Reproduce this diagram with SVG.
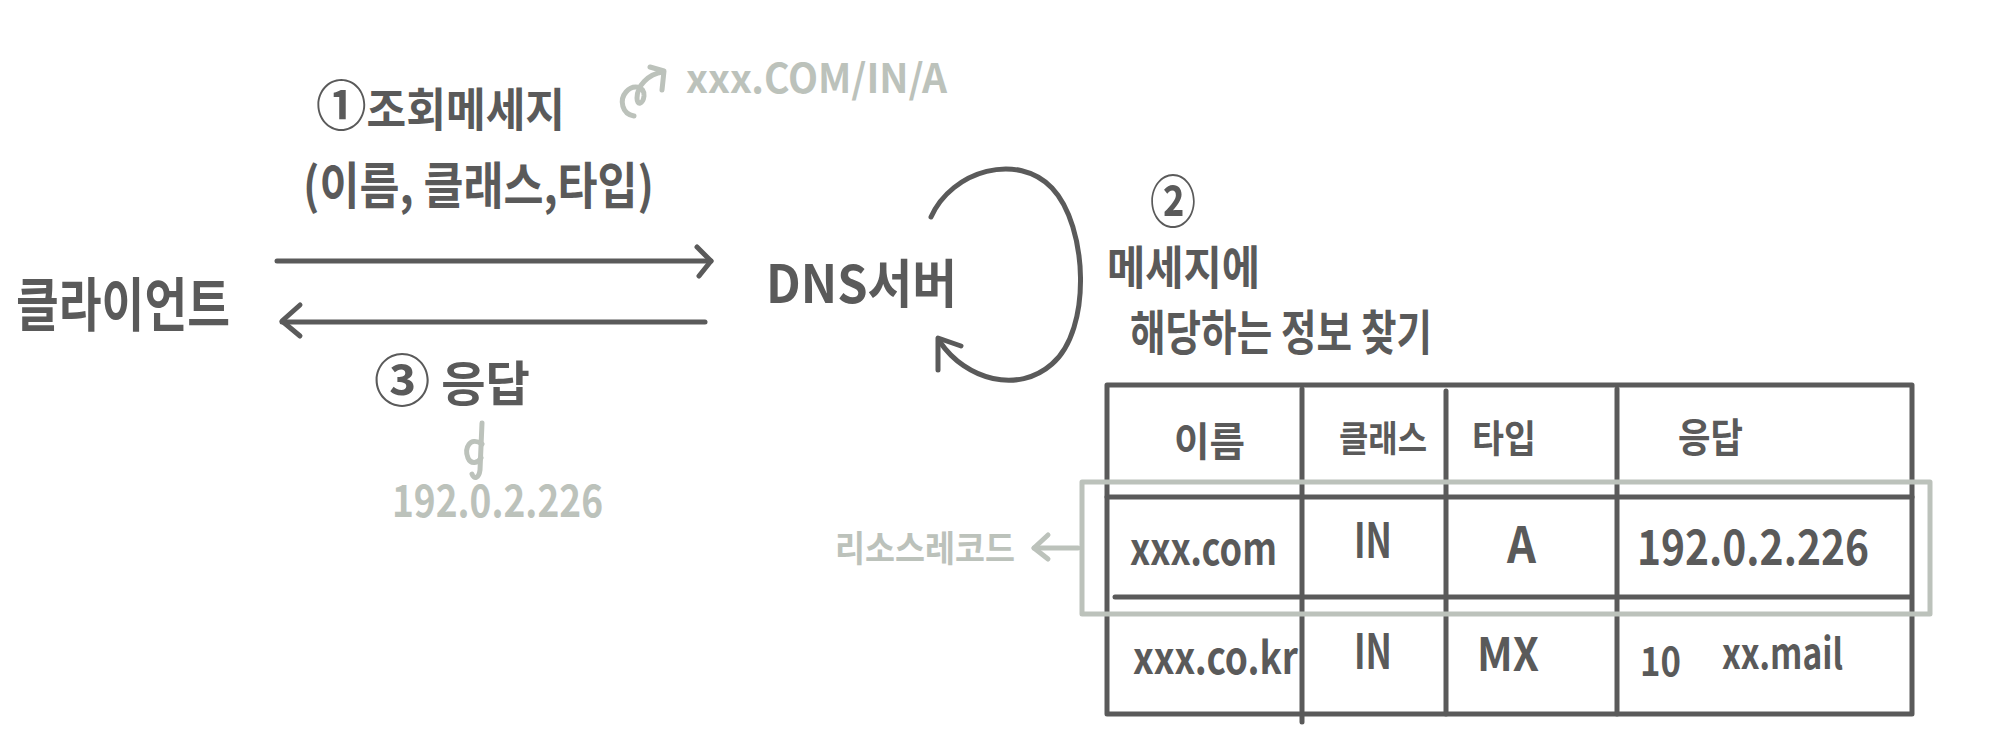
<svg xmlns="http://www.w3.org/2000/svg" width="2000" height="756" viewBox="0 0 2000 756">
  <defs>
    <style>
      .t { font-family: "Noto Sans CJK KR", "Noto Sans", sans-serif; font-weight: 700; fill: #5a5a5a; }
      .g { font-family: "Noto Sans CJK KR", "Noto Sans", sans-serif; font-weight: 700; fill: #bcc2bb; }
      .ln { stroke: #5a5a5a; stroke-width: 5; fill: none; stroke-linecap: round; stroke-linejoin: round; }
      .gl { stroke: #bcc2bb; stroke-width: 5; fill: none; stroke-linecap: round; stroke-linejoin: round; }
    </style>
  </defs>
  <rect width="2000" height="756" fill="#ffffff"/>

  <g id="client">
    <text class="t" x="16" y="326" font-size="58" textLength="214" lengthAdjust="spacingAndGlyphs">클라이언트</text>
  </g>

  <g id="dns-server">
    <text class="t" x="766" y="303" font-size="52" textLength="191" lengthAdjust="spacingAndGlyphs">DNS서버</text>
  </g>

  <g id="query-label">
    <text class="t" x="316" y="126" font-size="46" textLength="249" lengthAdjust="spacingAndGlyphs"><tspan font-size="54">①</tspan>조회메세지</text>
    <text class="t" x="303" y="204" font-size="50" textLength="351" lengthAdjust="spacingAndGlyphs">(이름, 클래스,타입)</text>
  </g>

  <g id="query-example">
    <text class="g" x="686" y="93" font-size="40" textLength="261" lengthAdjust="spacingAndGlyphs">xxx.COM/IN/A</text>
  </g>

  <g id="response-label">
    <text class="t" x="374" y="401" font-size="48" textLength="156" lengthAdjust="spacingAndGlyphs"><tspan font-size="56">③</tspan> 응답</text>
  </g>

  <g id="response-example">
    <text class="g" x="392" y="517" font-size="44" textLength="211" lengthAdjust="spacingAndGlyphs">192.0.2.226</text>
  </g>

  <g id="step2-label">
    <text class="t" x="1150" y="222" font-size="56" textLength="46" lengthAdjust="spacingAndGlyphs">②</text>
    <text class="t" x="1107" y="284" font-size="46" textLength="153" lengthAdjust="spacingAndGlyphs">메세지에</text>
    <text class="t" x="1130" y="350" font-size="48" textLength="302" lengthAdjust="spacingAndGlyphs">해당하는 정보 찾기</text>
  </g>

  <g id="resource-record-label">
    <text class="g" x="835" y="562" font-size="36" textLength="180" lengthAdjust="spacingAndGlyphs">리소스레코드</text>
  </g>

  <g id="dns-table">
    <rect class="ln" x="1107" y="385" width="805" height="329"/>
    <line class="ln" x1="1302" y1="389" x2="1302" y2="722"/>
    <line class="ln" x1="1446" y1="391" x2="1446" y2="714"/>
    <line class="ln" x1="1617" y1="389" x2="1617" y2="714"/>
    <line class="ln" x1="1107" y1="497" x2="1912" y2="497" stroke-width="7"/>
    <line class="ln" x1="1115" y1="597" x2="1910" y2="597" stroke-width="7"/>

    <text class="t" x="1174" y="456" font-size="40" textLength="71" lengthAdjust="spacingAndGlyphs">이름</text>
    <text class="t" x="1339" y="452" font-size="36" textLength="88" lengthAdjust="spacingAndGlyphs">클래스</text>
    <text class="t" x="1472" y="452" font-size="38" textLength="64" lengthAdjust="spacingAndGlyphs">타입</text>
    <text class="t" x="1678" y="452" font-size="40" textLength="65" lengthAdjust="spacingAndGlyphs">응답</text>

    <text class="t" x="1130" y="565" font-size="44" textLength="147" lengthAdjust="spacingAndGlyphs">xxx.com</text>
    <text class="t" x="1354" y="558" font-size="48" textLength="38" lengthAdjust="spacingAndGlyphs">IN</text>
    <text class="t" x="1507" y="563" font-size="50" textLength="29" lengthAdjust="spacingAndGlyphs">A</text>
    <text class="t" x="1637" y="565" font-size="48" textLength="232" lengthAdjust="spacingAndGlyphs">192.0.2.226</text>

    <text class="t" x="1133" y="674" font-size="44" textLength="165" lengthAdjust="spacingAndGlyphs">xxx.co.kr</text>
    <text class="t" x="1354" y="669" font-size="48" textLength="38" lengthAdjust="spacingAndGlyphs">IN</text>
    <text class="t" x="1477" y="671" font-size="46" textLength="62" lengthAdjust="spacingAndGlyphs">MX</text>
    <text class="t" x="1640" y="676" font-size="40" textLength="41" lengthAdjust="spacingAndGlyphs">10</text>
    <text class="t" x="1722" y="669" font-size="42" textLength="121" lengthAdjust="spacingAndGlyphs">xx.mail</text>
  </g>

  <g id="highlight">
    <rect class="gl" x="1082" y="482" width="848" height="132"/>
  </g>

  <g id="connectors">
    <!-- query arrow -->
    <line class="ln" x1="277" y1="261" x2="711" y2="261"/>
    <polyline class="ln" points="697,247 711,261 699,276"/>
    <!-- response arrow -->
    <line class="ln" x1="282" y1="322" x2="705" y2="322"/>
    <polyline class="ln" points="300,305 282,321 300,336"/>
    <!-- self loop at DNS server -->
    <path class="ln" d="M931,217 C952,170 1018,152 1052,188 C1088,226 1092,330 1052,364 C1018,394 966,380 940,342"/>
    <polyline class="ln" points="961,346 938,338 938,370"/>
    <!-- grey curl to query example -->
    <path class="gl" d="M634,116 C622,114 619,100 626,92 C633,84 645,86 644,96 C643,104 637,106 637,98 C637,86 648,74 663,72"/>
    <polyline class="gl" points="650,67 664,71 662,90"/>
    <!-- grey down mark to response example -->
    <path class="gl" d="M482,423 L480,470 C479,478 474,480 472,474"/>
    <path class="gl" d="M482,444 C470,436 464,448 468,458 C471,465 478,463 481,458"/>
    <!-- grey arrow to resource record label -->
    <line class="gl" x1="1078" y1="548" x2="1034" y2="548"/>
    <polyline class="gl" points="1048,535 1034,548 1048,559"/>
  </g>
</svg>
